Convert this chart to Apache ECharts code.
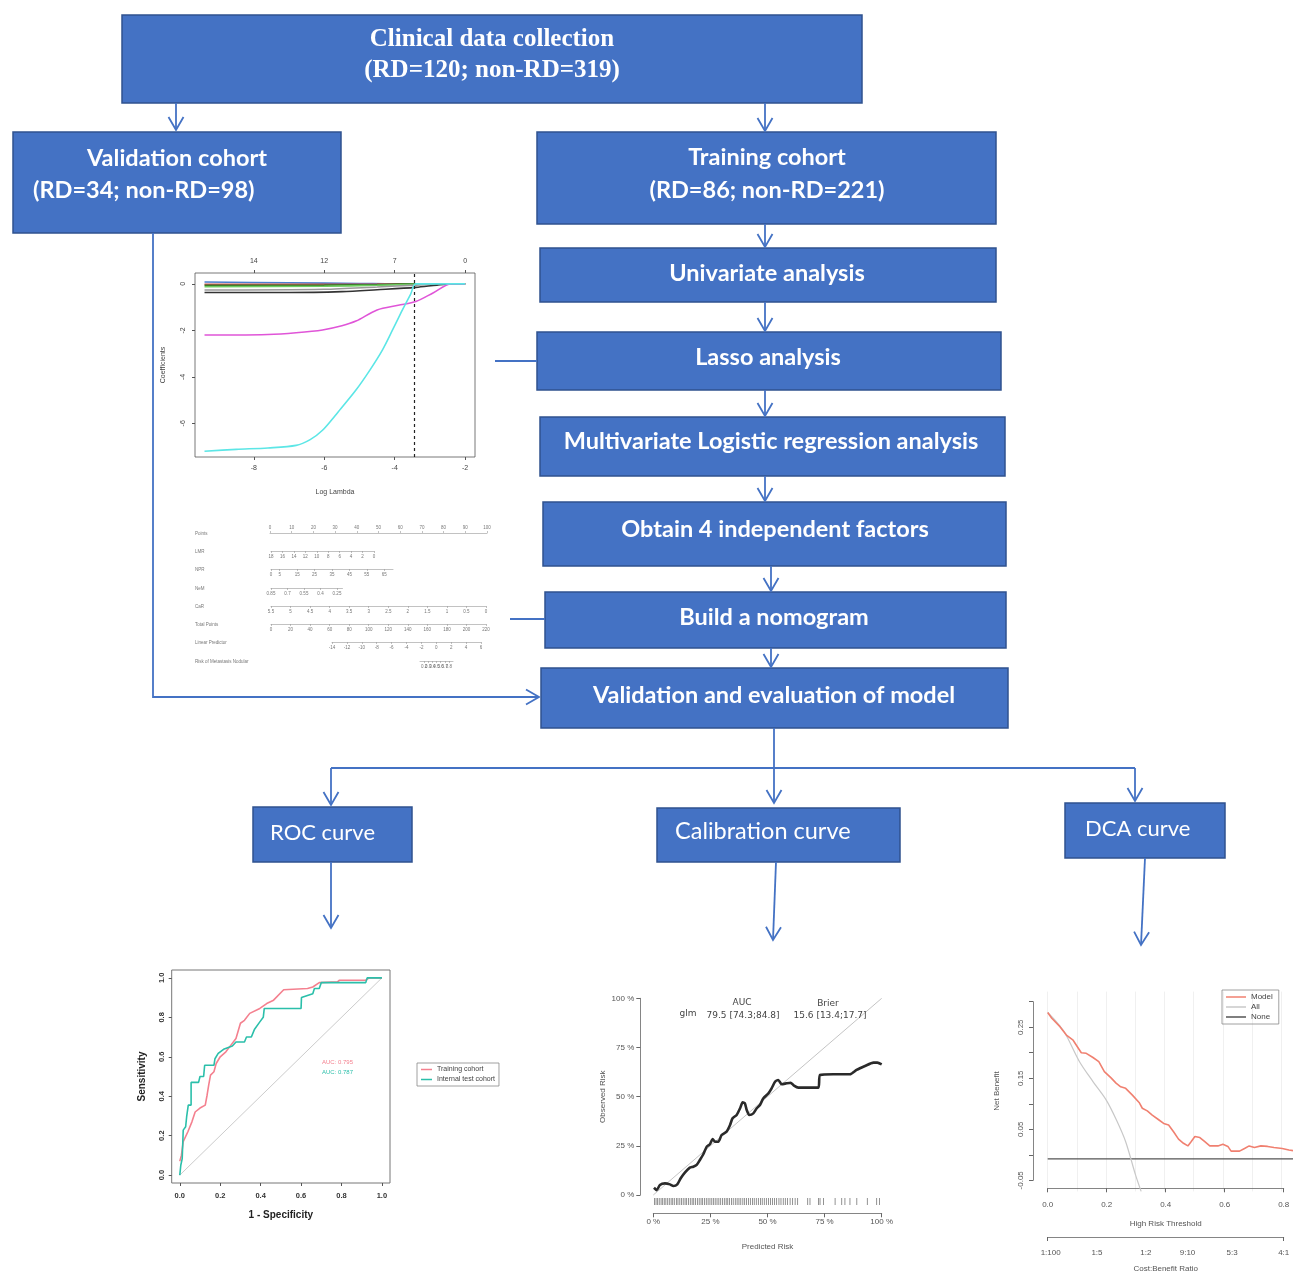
<!DOCTYPE html>
<html><head><meta charset="utf-8">
<script src="https://cdn.jsdelivr.net/npm/echarts@6/dist/echarts.min.js"></script>
<style>html,body{margin:0;padding:0;background:#fff}#c{width:1293px;height:1274px}</style>
</head><body><div id="c"></div>
<script>
// ================= DATA =================
const titleTop = ['Clinical data collection', '(RD=120; non-RD=319)'];
const validationText = ['Validation cohort', '(RD=34; non-RD=98)'];
const trainingText = ['Training cohort', '(RD=86; non-RD=221)'];
const stepTexts = ['Univariate analysis', 'Lasso analysis', 'Multivariate Logistic regression analysis',
  'Obtain 4 independent factors', 'Build a nomogram', 'Validation and evaluation of model'];
const evalTexts = ['ROC curve', 'Calibration curve', 'DCA curve'];

// Lasso coefficient paths (x = log lambda, y = coefficient)
const lassoBottomTicks = [-8, -6, -4, -2];
const lassoTopLabels = ['14', '12', '7', '0'];
const lassoYTicks = [0, -2, -4, -6];
const lassoLambdaMin = -3.44;
const lassoCyan = [[-9.4,-7.2],[-8.5,-7.12],[-7.6,-7.06],[-6.8,-6.95],[-6.4,-6.7],[-6.05,-6.3],[-5.6,-5.5],[-5.1,-4.57],[-4.7,-3.7],[-4.35,-2.85],[-4.05,-1.95],[-3.78,-1.12],[-3.55,-0.45],[-3.4,0.0],[-2.9,0],[-2.0,0]];
const lassoMagenta = [[-9.4,-2.2],[-8.5,-2.2],[-7.6,-2.18],[-6.8,-2.1],[-6.05,-1.98],[-5.5,-1.8],[-5.1,-1.6],[-4.5,-1.12],[-3.9,-0.92],[-3.4,-0.76],[-2.9,-0.38],[-2.4,0],[-2.0,0]];
const lassoBlack = [[-9.4,-0.37],[-7,-0.37],[-5.5,-0.33],[-4.5,-0.25],[-3.4,-0.15],[-2.8,-0.05],[-2.4,0],[-2.0,0]];
const lassoGray = [[-9.4,-0.26],[-6,-0.23],[-4.5,-0.13],[-3.4,-0.05],[-2.8,0],[-2.0,0]];
const lassoGreen = [[-9.4,-0.12],[-6,-0.1],[-4.5,-0.06],[-3.4,-0.02],[-3.0,0],[-2.0,0]];
const lassoDarkGreen = [[-9.4,-0.06],[-6,-0.05],[-4.5,-0.03],[-3.6,0],[-2.0,0]];
const lassoRed = [[-9.4,-0.02],[-6,-0.02],[-4.5,-0.01],[-3.8,0],[-2.0,0]];
const lassoBlue = [[-9.4,0.08],[-7,0.05],[-5,0.02],[-4,0],[-2.0,0]];

// Nomogram scales
const nomoNames = ['Points', 'LMR', 'NPR', 'NeM', 'CaR', 'Total Points', 'Linear Predictor', 'Risk of Metastasis Nodular'];
const pointsTicks = [0,10,20,30,40,50,60,70,80,90,100];
const lmrTicks = [18,16,14,12,10,8,6,4,2,0];
const nprTicks = [0,5,15,25,35,45,55,65];
const nemTicks = [0.85,0.7,0.55,0.4,0.25];
const carTicks = [5.5,5,4.5,4,3.5,3,2.5,2,1.5,1,0.5,0];
const totalTicks = [0,20,40,60,80,100,120,140,160,180,200,220];
const lpTicks = [-14,-12,-10,-8,-6,-4,-2,0,2,4,6];
const riskTicks = [0.1,0.2,0.3,0.4,0.5,0.6,0.7,0.8,0.9];
const nomoRanges = [[0,100],[0,18],[0,70],[0.2,0.85],[0,5.5],[0,220],[-14,6],[0.1,0.9]];
const nomoInverse = [false,true,false,true,true,false,false,false];

// ROC
const rocTicks = [0,0.2,0.4,0.6,0.8,1.0];
const rocTrain = [[0,0.07],[0.008,0.10],[0.017,0.17],[0.04,0.22],[0.06,0.27],[0.076,0.32],[0.10,0.34],[0.126,0.355],[0.135,0.405],[0.143,0.456],[0.152,0.507],[0.169,0.524],[0.18,0.566],[0.20,0.60],[0.228,0.625],[0.253,0.659],[0.278,0.693],[0.30,0.77],[0.32,0.785],[0.346,0.82],[0.396,0.845],[0.43,0.87],[0.464,0.887],[0.514,0.94],[0.632,0.946],[0.658,0.954],[0.69,0.976],[0.78,0.98],[0.79,0.988],[0.92,0.988],[0.936,1.0],[1,1]];
const rocTest = [[0,0],[0.005,0.05],[0.012,0.084],[0.017,0.228],[0.029,0.245],[0.034,0.296],[0.042,0.355],[0.056,0.355],[0.056,0.47],[0.093,0.47],[0.10,0.50],[0.118,0.50],[0.123,0.557],[0.169,0.557],[0.174,0.59],[0.19,0.617],[0.22,0.64],[0.26,0.655],[0.278,0.675],[0.32,0.675],[0.33,0.70],[0.354,0.70],[0.37,0.74],[0.396,0.777],[0.413,0.80],[0.418,0.845],[0.60,0.845],[0.602,0.90],[0.658,0.92],[0.666,0.946],[0.69,0.946],[0.70,0.976],[0.92,0.976],[0.927,1],[1,1]];
const rocDiag = [[0,0],[1,1]];
const rocNames = ['Training cohort', 'Internal test cohort'];
const rocAuc = ['AUC: 0.795', 'AUC: 0.787'];

// Calibration
const calTicks = [0,25,50,75,100];
const calCurve = [[0.3,3.7],[1.5,2.5],[2.9,5.1],[5.1,5.9],[7.3,5.4],[8.8,4.6],[10.5,5.4],[12,8.5],[13.9,11.5],[16,13.9],[17.5,14.4],[19,15.3],[20.4,17.8],[21.9,20.7],[23.4,24.6],[24.8,25.8],[26,28.5],[27,27.1],[28.5,27.1],[29.9,30.5],[32.1,32.2],[33.6,35.6],[34.7,39],[36.5,40.7],[38,44.1],[39.1,47.1],[40.1,46.6],[40.9,43.2],[42,40.7],[43.8,41.5],[45.3,44.1],[46.7,45.8],[48.2,49.2],[50.4,51.7],[51.8,54.2],[53.3,57.6],[54.7,58.5],[56.2,56.3],[58.4,56.8],[60.1,57.1],[61.6,55.6],[63.5,54.6],[68.6,54.6],[72.3,54.6],[73,61],[78.8,61.4],[86.1,61.4],[89,63.6],[92.7,65.6],[96.4,67.3],[98.1,67.3],[100,66.4]];
const calDiag = [[0,0],[100,100]];
const calRug = [0.5,1.2,1.9,2.6,3.4,4.1,4.8,5.5,6.3,7.0,7.8,8.5,9.2,10.1,10.8,11.6,12.3,13.1,13.9,14.6,15.4,16.2,17.0,17.7,18.5,19.3,20.1,20.9,21.6,22.4,23.2,24.0,24.8,25.6,26.3,27.1,27.9,28.7,29.5,30.3,31.1,31.9,32.6,33.4,34.2,35.0,35.9,36.7,37.5,38.3,39.2,40.0,40.8,41.7,42.5,43.4,44.2,45.1,46.0,46.9,47.7,48.6,49.5,50.4,51.3,52.2,53.1,54.0,55.0,55.9,56.9,57.8,58.8,59.9,61.0,62.1,63.2,67.6,68.6,72.3,73,74.5,79.6,82.5,83.9,86.1,89.1,93.7,97.8,99];
const calStats = { model: 'glm', auc: '79.5 [74.3;84.8]', brier: '15.6 [13.4;17.7]' };

// DCA
const dcaModel = [[0,0.280],[0.014,0.269],[0.042,0.253],[0.064,0.237],[0.087,0.227],[0.115,0.203],[0.132,0.202],[0.155,0.194],[0.175,0.186],[0.194,0.167],[0.217,0.155],[0.234,0.145],[0.25,0.138],[0.267,0.135],[0.29,0.122],[0.313,0.108],[0.324,0.097],[0.341,0.092],[0.358,0.084],[0.38,0.075],[0.397,0.068],[0.414,0.065],[0.431,0.052],[0.448,0.038],[0.465,0.030],[0.48,0.025],[0.491,0.033],[0.504,0.043],[0.521,0.041],[0.538,0.033],[0.555,0.025],[0.583,0.025],[0.6,0.028],[0.617,0.024],[0.628,0.015],[0.657,0.015],[0.674,0.020],[0.69,0.025],[0.708,0.022],[0.73,0.025],[0.753,0.024],[0.775,0.022],[0.803,0.020],[0.826,0.017],[0.84,0.016]];
const dcaAll = [[0,0.28],[0.03,0.262],[0.06,0.24],[0.109,0.186],[0.155,0.148],[0.2,0.113],[0.235,0.075],[0.267,0.033],[0.301,-0.031],[0.32,-0.062]];
const dcaNone = [[0,0],[0.84,0]];
const dcaYTicks = [-0.05,0,0.05,0.1,0.15,0.2,0.25,0.3];
const dcaYLabels = [-0.05,0.05,0.15,0.25];
const dcaXTicks = [0,0.2,0.4,0.6,0.8];
const costBenefitPos = [0.01,0.167,0.333,0.474,0.625,0.8];
const costBenefitLabels = ['1:100','1:5','1:2','9:10','5:3','4:1'];

// ================= LAYOUT / STYLE =================
const BLUE = '#4472C4', BORDER = '#2F528F';
const graphics = [];
function box(x, y, w, h) {
  graphics.push({ type: 'rect', shape: { x, y, width: w, height: h }, style: { fill: BLUE, stroke: BORDER, lineWidth: 1.5 }, z: 1 });
}
function txt(s, x, y, font, align, color, rot) {
  graphics.push({ type: 'text', x, y, rotation: rot || 0, style: { text: s, font, fill: color || '#fff', align: align || 'center', verticalAlign: 'middle' }, z: 5 });
}
function seg(pts, head) {
  graphics.push({ type: 'polyline', shape: { points: pts }, style: { stroke: BLUE, lineWidth: 1.8, fill: null }, z: 2 });
  if (head) {
    const [x2, y2] = pts[pts.length - 1], [x1, y1] = pts[pts.length - 2];
    const d = Math.hypot(x2 - x1, y2 - y1), ux = (x2 - x1) / d, uy = (y2 - y1) / d;
    const L = 13, Wd = 7.5;
    graphics.push({ type: 'polyline', shape: { points: [
      [x2 - ux * L - uy * Wd, y2 - uy * L + ux * Wd], [x2, y2], [x2 - ux * L + uy * Wd, y2 - uy * L - ux * Wd]] },
      style: { stroke: BLUE, lineWidth: 1.8, fill: null }, z: 2 });
  }
}
const serif = 'bold 25px "Liberation Serif"';
const sansB = 'bold 23.5px Lato';
const sansR = '22px Lato';
const sansR2 = '23.5px Lato';

box(122, 15, 740, 88);
txt(titleTop[0], 492, 40, serif); txt(titleTop[1], 492, 71, serif);
box(13, 132, 328, 101);
txt(validationText[0], 177, 158, sansB); txt(validationText[1], 33, 190, sansB, 'left');
box(537, 132, 459, 92);
txt(trainingText[0], 767, 157, sansB); txt(trainingText[1], 767, 190, sansB);
const stepBoxes = [[540,248,456,54,767,273],[537,332,464,58,768,357],[540,417,465,59,771,441],[543,502,463,64,775,529],[545,592,461,56,774,617],[541,668,467,60,774,695]];
stepBoxes.forEach((b, i) => { box(b[0], b[1], b[2], b[3]); txt(stepTexts[i], b[4], b[5], sansB); });
const evalBoxes = [[253,807,159,55,270,833],[657,808,243,54,675,831],[1065,803,160,55,1085,829]];
evalBoxes.forEach((b, i) => { box(b[0], b[1], b[2], b[3]); txt(evalTexts[i], b[4], b[5], i === 1 ? sansR2 : sansR, 'left'); });

seg([[176,103],[176,130]], true);
seg([[765,103],[765,131]], true);
seg([[765,224],[765,247]], true);
seg([[765,302],[765,331]], true);
seg([[765,390],[765,416]], true);
seg([[765,476],[765,501]], true);
seg([[771,566],[771,591]], true);
seg([[771,648],[771,667]], true);
seg([[495,361],[537,361]], false);
seg([[510,619],[545,619]], false);
seg([[153,233],[153,697],[539,697]], true);
seg([[774,728],[774,768]], false);
seg([[331,768],[1135,768]], false);
seg([[331,768],[331,805]], true);
seg([[774,768],[774,803]], true);
seg([[1135,768],[1135,801]], true);
seg([[331,862],[331,928]], true);
seg([[776,862],[773,940]], true);
seg([[1145,858],[1141,945]], true);

// text inside mini charts
txt(rocAuc[0], 322, 1062, '6px sans-serif', 'left', '#F4808F');
txt(rocAuc[1], 322, 1072, '6px sans-serif', 'left', '#2BBFAA');
txt('AUC', 742, 1003, '9px "DejaVu Sans"', 'center', '#444');
txt('Brier', 828, 1004, '9px "DejaVu Sans"', 'center', '#444');
txt(calStats.model, 688, 1014, '9px "DejaVu Sans"', 'center', '#444');
txt(calStats.auc, 743, 1016, '9px "DejaVu Sans"', 'center', '#444');
txt(calStats.brier, 830, 1016, '9px "DejaVu Sans"', 'center', '#444');

// ================= AXES / GRIDS =================
const grid = [], xAxis = [], yAxis = [], series = [];
function near(arr, v) { return arr.findIndex(a => Math.abs(a - v) < 1e-6); }

// Lasso grid
grid.push({ left: 195, top: 273, width: 280, height: 184, show: true, borderColor: '#555', borderWidth: 0.8 });
const lassoX = xAxis.length;
xAxis.push({ gridIndex: 0, type: 'value', min: -9.67, max: -1.72, axisLine: { show: false, onZero: false },
  axisTick: { customValues: lassoBottomTicks, lineStyle: { color: '#555' }, length: 3 },
  axisLabel: { customValues: lassoBottomTicks, fontSize: 7, color: '#444', margin: 8 }, splitLine: { show: false },
  name: 'Log Lambda', nameLocation: 'middle', nameGap: 32, nameTextStyle: { fontSize: 7, color: '#444' } });
xAxis.push({ gridIndex: 0, type: 'value', position: 'top', min: -9.67, max: -1.72, axisLine: { show: false, onZero: false },
  axisTick: { customValues: lassoBottomTicks, lineStyle: { color: '#555' }, length: 3 },
  axisLabel: { customValues: lassoBottomTicks, fontSize: 7, color: '#444', margin: 8,
    formatter: v => lassoTopLabels[near(lassoBottomTicks, v)] }, splitLine: { show: false } });
const lassoY = yAxis.length;
yAxis.push({ gridIndex: 0, type: 'value', min: -7.45, max: 0.47, axisLine: { show: false, onZero: false },
  axisTick: { customValues: lassoYTicks, lineStyle: { color: '#555' }, length: 3 },
  axisLabel: { customValues: lassoYTicks, fontSize: 7, color: '#444', rotate: 90, margin: 8 }, splitLine: { show: false },
  name: 'Coefficients', nameLocation: 'middle', nameGap: 28, nameTextStyle: { fontSize: 7, color: '#444' } });
const lassoSeries = [[lassoBlue,'#4A7FD0'],[lassoRed,'#D05050'],[lassoDarkGreen,'#3B7A2A'],[lassoGreen,'#6CCB5F'],[lassoGray,'#999999'],[lassoBlack,'#333333'],[lassoMagenta,'#E055D8'],[lassoCyan,'#5CE6E6']];
lassoSeries.forEach((s, i) => {
  const ser = { type: 'line', name: 'lasso' + i, xAxisIndex: lassoX, yAxisIndex: lassoY, data: s[0], showSymbol: false, smooth: 0.3,
    lineStyle: { color: s[1], width: 1.6 }, itemStyle: { color: s[1] }, silent: true };
  if (i === 0) ser.markLine = { symbol: 'none', silent: true, label: { show: false }, lineStyle: { color: '#222', type: [3, 3], width: 1.2 }, data: [{ xAxis: lassoLambdaMin }] };
  series.push(ser);
});

// Nomogram grids
const nomoTicks = [pointsTicks, lmrTicks, nprTicks, nemTicks, carTicks, totalTicks, lpTicks, riskTicks];
const nomoGeom = [[270,487,533],[271,374,551],[271,393,569],[271,342.5,588],[271,486,606],[271,486,624],[332,481,642],[420,453,661]];
nomoNames.forEach((nm, i) => {
  const g = nomoGeom[i], gi = grid.length;
  const top = i === 0;
  grid.push({ left: g[0], width: g[1] - g[0], top: top ? g[2] : g[2] - 2, height: 2 });
  xAxis.push({ gridIndex: gi, type: 'value', position: top ? 'top' : 'bottom', min: nomoRanges[i][0], max: nomoRanges[i][1], inverse: nomoInverse[i],
    axisLine: { show: true, onZero: false, lineStyle: { color: '#999', width: 0.6 } },
    axisTick: { customValues: nomoTicks[i], length: 2, lineStyle: { color: '#999', width: 0.6 } },
    axisLabel: { customValues: nomoTicks[i], fontSize: 4.5, color: '#777', margin: 3, formatter: v => String(+v.toFixed(2)) },
    splitLine: { show: false } });
  yAxis.push({ gridIndex: gi, type: 'value', show: false });
  txt(nm, 195, g[2] + 1, '4.5px sans-serif', 'left', '#777');
});

// ROC
const rocG = grid.length;
grid.push({ left: 171.7, top: 970, width: 218.3, height: 213, show: true, borderColor: '#777', borderWidth: 1 });
const rocX = xAxis.length;
xAxis.push({ gridIndex: rocG, type: 'value', min: -0.04, max: 1.04, axisLine: { show: false, onZero: false },
  axisTick: { customValues: rocTicks, length: 3, lineStyle: { color: '#555' } },
  axisLabel: { customValues: rocTicks, fontSize: 7.5, fontWeight: 'bold', color: '#333', margin: 9, formatter: v => v.toFixed(1) },
  splitLine: { show: false }, name: '1 - Specificity', nameLocation: 'middle', nameGap: 27,
  nameTextStyle: { fontSize: 10, fontWeight: 'bold', color: '#222' } });
const rocY = yAxis.length;
yAxis.push({ gridIndex: rocG, type: 'value', min: -0.04, max: 1.04, axisLine: { show: false, onZero: false },
  axisTick: { customValues: rocTicks, length: 3, lineStyle: { color: '#555' } },
  axisLabel: { customValues: rocTicks, fontSize: 7.5, fontWeight: 'bold', color: '#333', margin: 6, rotate: 90, formatter: v => v.toFixed(1) },
  splitLine: { show: false }, name: 'Sensitivity', nameLocation: 'middle', nameGap: 24,
  nameTextStyle: { fontSize: 10, fontWeight: 'bold', color: '#222' } });
series.push({ type: 'line', name: 'rocdiag', xAxisIndex: rocX, yAxisIndex: rocY, data: rocDiag, showSymbol: false, lineStyle: { color: '#ccc', width: 1 }, silent: true });
series.push({ type: 'line', name: rocNames[0], xAxisIndex: rocX, yAxisIndex: rocY, data: rocTrain, showSymbol: false, lineStyle: { color: '#F4808F', width: 1.6 }, itemStyle: { color: '#F4808F' } });
series.push({ type: 'line', name: rocNames[1], xAxisIndex: rocX, yAxisIndex: rocY, data: rocTest, showSymbol: false, lineStyle: { color: '#2BBFAA', width: 1.6 }, itemStyle: { color: '#2BBFAA' } });

// Calibration data grid and axis grid
const calG = grid.length;
grid.push({ left: 653.3, width: 228.4, top: 998.3, height: 208.5 });
const calX = xAxis.length;
xAxis.push({ gridIndex: calG, type: 'value', min: 0, max: 100, offset: 6.5,
  axisLine: { show: true, onZero: false, lineStyle: { color: '#666', width: 0.8 } },
  axisTick: { customValues: calTicks, length: 4, lineStyle: { color: '#666' } },
  axisLabel: { customValues: calTicks, fontSize: 8, color: '#555', margin: 4, formatter: v => v + ' %' },
  splitLine: { show: false }, name: 'Predicted Risk', nameLocation: 'middle', nameGap: 29, nameTextStyle: { fontSize: 8, color: '#555' } });
const calY = yAxis.length;
yAxis.push({ gridIndex: calG, type: 'value', min: -6, max: 100, show: false });
series.push({ type: 'line', name: 'caldiag', xAxisIndex: calX, yAxisIndex: calY, data: calDiag, showSymbol: false, lineStyle: { color: '#c4c4c4', width: 1 }, silent: true });
series.push({ type: 'line', name: 'calcurve', xAxisIndex: calX, yAxisIndex: calY, data: calCurve, showSymbol: false, smooth: 0.2, lineStyle: { color: '#2a2a2a', width: 2.6 }, silent: true });
series.push({ type: 'scatter', name: 'calrug', xAxisIndex: calX, yAxisIndex: calY, data: calRug.map(v => [v, -3.3]), symbol: 'rect', symbolSize: [0.8, 7], itemStyle: { color: '#555' }, silent: true });
const calAG = grid.length;
grid.push({ left: 653.3, width: 228.4, top: 998.3, height: 196.7 });
xAxis.push({ gridIndex: calAG, type: 'value', min: 0, max: 100, show: false });
yAxis.push({ gridIndex: calAG, type: 'value', min: 0, max: 100, offset: 13,
  axisLine: { show: true, onZero: false, lineStyle: { color: '#666', width: 0.8 } },
  axisTick: { customValues: calTicks, length: 4, lineStyle: { color: '#666' } },
  axisLabel: { customValues: calTicks, fontSize: 8, color: '#555', margin: 6, formatter: v => v + ' %' },
  splitLine: { show: false }, name: 'Observed Risk', nameLocation: 'middle', nameGap: 34, nameTextStyle: { fontSize: 8, color: '#555' } });

// DCA data grid and axis grid
const dcaG = grid.length;
grid.push({ left: 1047.7, width: 247.8, top: 991.6, height: 199.8 });
const dcaX = xAxis.length;
xAxis.push({ gridIndex: dcaG, type: 'value', min: 0, max: 0.84, interval: 0.1, axisLine: { show: false, onZero: false }, axisTick: { show: false }, axisLabel: { show: false },
  splitLine: { show: true, lineStyle: { color: '#f0f0f0', width: 1 } } });
const dcaY = yAxis.length;
yAxis.push({ gridIndex: dcaG, type: 'value', min: -0.062, max: 0.32, show: false });
series.push({ type: 'line', name: 'None', xAxisIndex: dcaX, yAxisIndex: dcaY, data: dcaNone, showSymbol: false, lineStyle: { color: '#555', width: 1.2 }, itemStyle: { color: '#555' } });
series.push({ type: 'line', name: 'All', xAxisIndex: dcaX, yAxisIndex: dcaY, data: dcaAll, showSymbol: false, smooth: 0.3, lineStyle: { color: '#c8c8c8', width: 1.2 }, itemStyle: { color: '#c8c8c8' } });
series.push({ type: 'line', name: 'Model', xAxisIndex: dcaX, yAxisIndex: dcaY, data: dcaModel, showSymbol: false, lineStyle: { color: '#F08070', width: 1.6 }, itemStyle: { color: '#F08070' } });
const dcaAG = grid.length;
grid.push({ left: 1047.7, width: 236, top: 1001.7, height: 183.3 });
xAxis.push({ gridIndex: dcaAG, type: 'value', min: 0, max: 0.8, offset: 8,
  axisLine: { show: true, onZero: false, lineStyle: { color: '#666', width: 0.8 } },
  axisTick: { customValues: dcaXTicks, length: 4, lineStyle: { color: '#666' } },
  axisLabel: { customValues: dcaXTicks, fontSize: 8, color: '#555', margin: 12, formatter: v => v.toFixed(1) },
  splitLine: { show: false }, name: 'High Risk Threshold', nameLocation: 'middle', nameGap: 31, nameTextStyle: { fontSize: 8, color: '#555' } });
xAxis.push({ gridIndex: dcaAG, type: 'value', min: 0, max: 0.8, offset: 56.7, position: 'bottom',
  axisLine: { show: true, onZero: false, lineStyle: { color: '#666', width: 0.8 } },
  axisTick: { customValues: [0, 0.8], length: 4, lineStyle: { color: '#666' } },
  axisLabel: { customValues: costBenefitPos, fontSize: 8, color: '#555', margin: 12, formatter: v => costBenefitLabels[near(costBenefitPos, v)] },
  splitLine: { show: false }, name: 'Cost:Benefit Ratio', nameLocation: 'middle', nameGap: 28, nameTextStyle: { fontSize: 8, color: '#555' } });
yAxis.push({ gridIndex: dcaAG, type: 'value', min: -0.05, max: 0.3, offset: 14.7,
  axisLine: { show: true, onZero: false, lineStyle: { color: '#666', width: 0.8 } },
  axisTick: { customValues: dcaYTicks, length: 4, lineStyle: { color: '#666' } },
  axisLabel: { customValues: dcaYLabels, fontSize: 8, color: '#555', margin: 8, rotate: 90, formatter: v => v.toFixed(2) },
  splitLine: { show: false }, name: 'Net Benefit', nameLocation: 'middle', nameGap: 32, nameTextStyle: { fontSize: 8, color: '#555' } });

const option = {
  backgroundColor: '#fff',
  animation: false,
  grid, xAxis, yAxis, series,
  legend: [
    { data: rocNames, left: 417, top: 1063, orient: 'vertical', icon: 'rect', itemWidth: 11, itemHeight: 1.5, itemGap: 3,
      borderColor: '#888', borderWidth: 0.8, padding: [3, 4, 3, 4], textStyle: { fontSize: 7, color: '#444' }, selectedMode: false },
    { data: ['Model', 'All', 'None'], left: 1222, top: 990, orient: 'vertical', icon: 'rect', itemWidth: 20, itemHeight: 1.5, itemGap: 2,
      borderColor: '#888', borderWidth: 0.8, padding: [3, 6, 3, 4], textStyle: { fontSize: 8, color: '#444' }, selectedMode: false }
  ],
  graphic: graphics
};
const chart = echarts.init(document.getElementById('c'), null, { renderer: 'canvas', width: 1293, height: 1274 });
chart.setOption(option);
</script>
</body></html>
